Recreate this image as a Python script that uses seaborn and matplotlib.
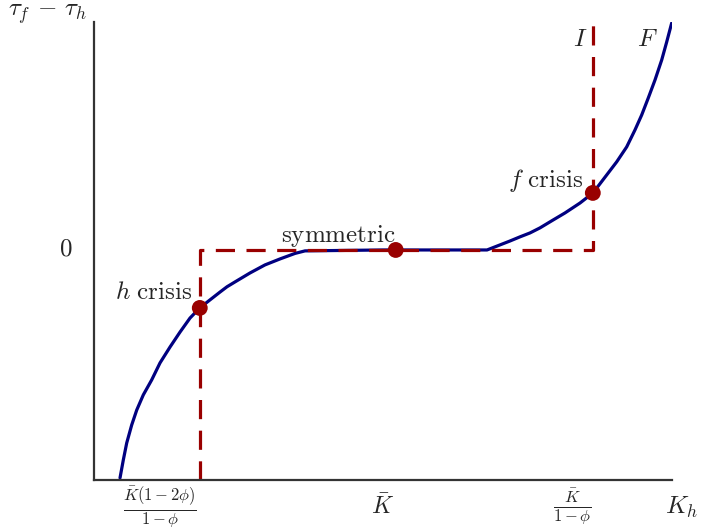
import numpy as np
import pandas as pd
import matplotlib
matplotlib.use("Agg")
import matplotlib.pyplot as plt
import seaborn as sns

# curve F (x in units of the K_h axis, y = tau_f - tau_h)
f_x = [0.450, 0.507, 0.566, 0.652, 0.739, 0.853, 0.998, 1.142, 1.315, 1.488, 1.661,
       1.830, 2.007, 2.180, 2.301, 2.439, 2.699, 2.958, 3.218, 3.478, 3.651,
       5.0, 6.80, 7.024, 7.197, 7.370, 7.543, 7.716, 7.941, 8.149, 8.408, 8.633,
       8.870, 9.043, 9.216, 9.360, 9.476, 9.590, 9.706, 9.822, 9.908, 9.995]
f_y = [-0.991, -0.913, -0.839, -0.761, -0.696, -0.630, -0.565, -0.491, -0.422, -0.357, -0.296,
       -0.252, -0.217, -0.183, -0.160, -0.139, -0.100, -0.065, -0.039, -0.015, -0.004,
       0.0, 0.0, 0.022, 0.039, 0.057, 0.074, 0.096, 0.130, 0.161, 0.204, 0.248,
       0.326, 0.383, 0.448, 0.522, 0.587, 0.661, 0.739, 0.826, 0.904, 0.987]

# line I (dashed)
i_x = [1.83, 1.83, 8.63, 8.63]
i_y = [-1.0, 0.0, 0.0, 0.99]

# equilibrium points
pt_x = [1.83, 5.22, 8.63]
pt_y = [-0.252, 0.0, 0.248]

tick_pos = [1.14, 5.0, 8.27]
tick_labels = [r"$\frac{\bar{K}(1-2\phi)}{1-\phi}$", r"$\bar{K}$", r"$\frac{\bar{K}}{1-\phi}$"]

sns.set_style("white")
plt.rcParams["mathtext.fontset"] = "cm"
plt.rcParams["font.family"] = ["DejaVu Serif"]

fig = plt.figure(figsize=(7.04, 5.28), dpi=100)
ax = fig.add_axes([94 / 704, 48 / 528, 578 / 704, 458 / 528])

sns.lineplot(x=f_x, y=f_y, sort=False, estimator=None, color="#000080", lw=2.3, ax=ax)
sns.lineplot(x=i_x, y=i_y, sort=False, estimator=None, color="#990000", lw=2.3,
             dashes=False, ax=ax)
ax.lines[-1].set_dashes((6, 3.6))
ax.lines[0].set_solid_joinstyle("round")
sns.scatterplot(x=pt_x, y=pt_y, color="#990000", s=130, edgecolor="none", zorder=5, ax=ax)

ax.set_xlim(0, 10)
ax.set_ylim(-1.0, 0.991)
ax.set_xticks([])
ax.set_yticks([])
for s in ["top", "right"]:
    ax.spines[s].set_visible(False)
for s in ["left", "bottom"]:
    ax.spines[s].set_color("#333333")
    ax.spines[s].set_linewidth(1.6)

fs = 18
for p, lab in zip(tick_pos, tick_labels):
    ax.text(p, -1.117, lab, ha="center", va="center", fontsize=17)
ax.text(10.17, -1.12, r"$K_h$", ha="center", va="center", fontsize=fs)
fig.text(48 / 704, 1 - 14 / 528, r"$\tau_f\,-\,\tau_h$", ha="center", va="center", fontsize=fs)
fig.text(66 / 704, 1 - 249 / 528, r"$0$", ha="center", va="center", fontsize=fs)

ax.text(1.70, -0.183, r"$h\ \mathrm{crisis}$", ha="right", va="center", fontsize=fs)
ax.text(4.22, 0.06, r"$\mathrm{symmetric}$", ha="center", va="center", fontsize=fs)
ax.text(8.46, 0.304, r"$f\ \mathrm{crisis}$", ha="right", va="center", fontsize=fs)
ax.text(8.41, 0.913, r"$I$", ha="center", va="center", fontsize=fs)
ax.text(9.57, 0.913, r"$F$", ha="center", va="center", fontsize=fs)

fig.savefig("out.png", dpi=100)
